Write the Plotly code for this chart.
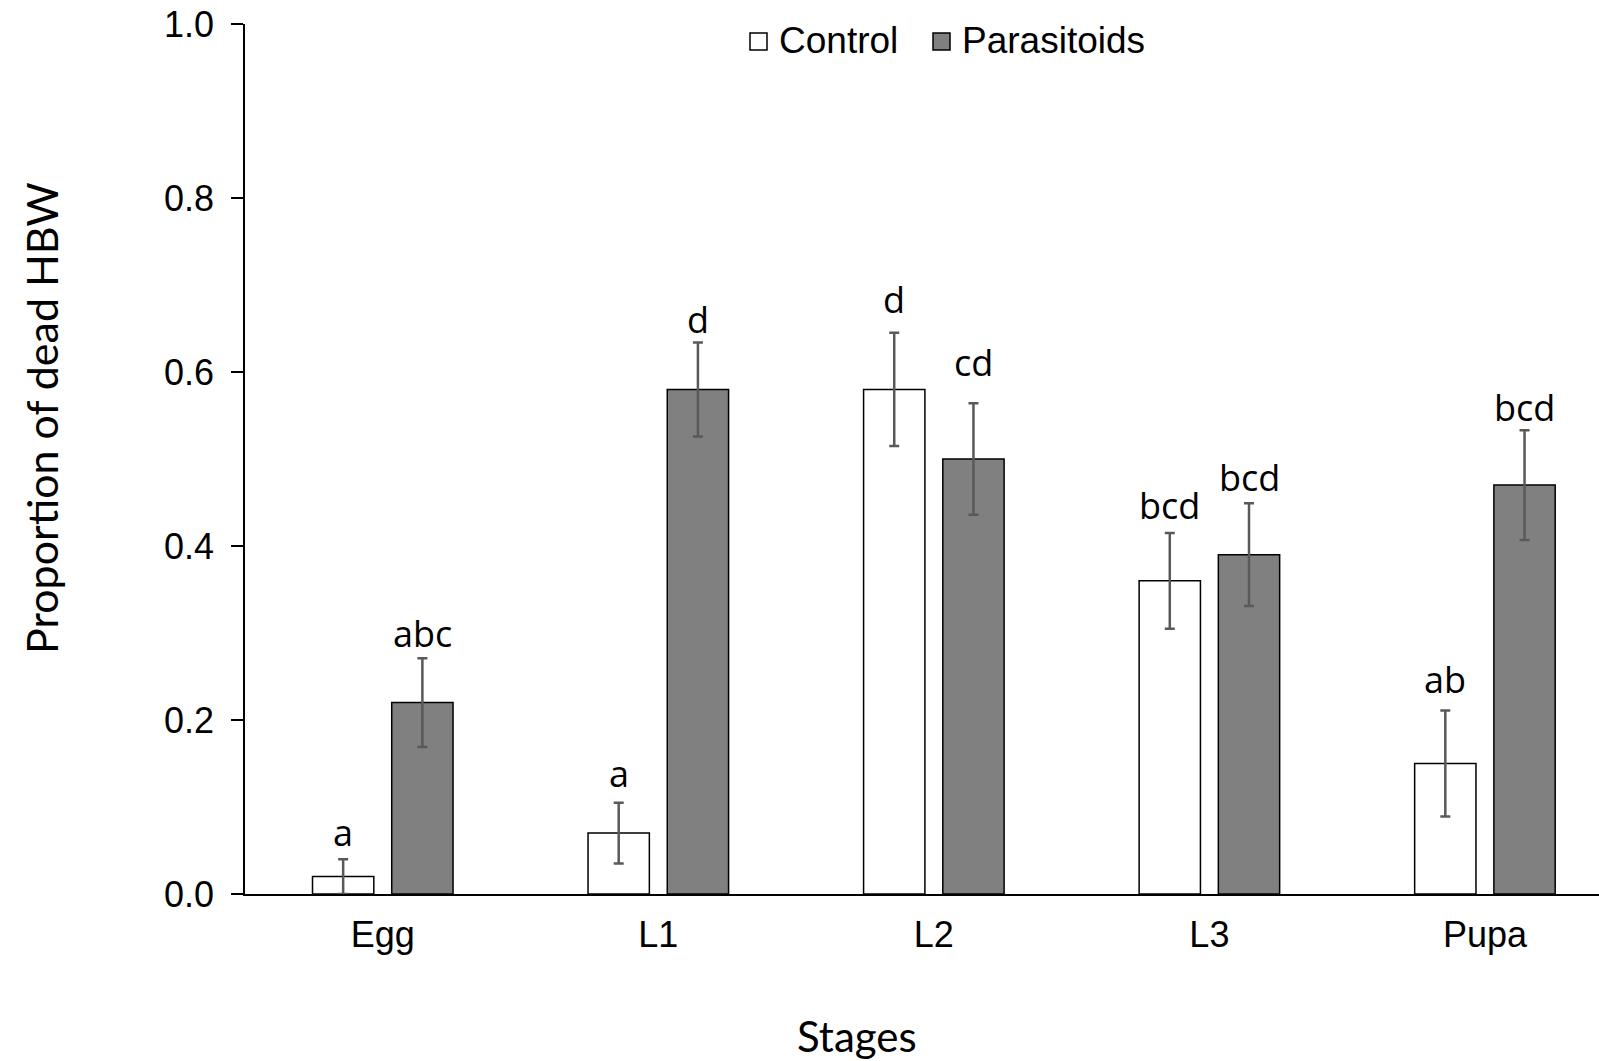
import plotly.graph_objects as go

# Mortality of HBW by developmental stage, control vs. parasitoid exposure
stages = ["Egg", "L1", "L2", "L3", "Pupa"]
control_mean = [0.02, 0.07, 0.58, 0.36, 0.15]
control_se = [0.02, 0.035, 0.065, 0.055, 0.061]
parasitoid_mean = [0.22, 0.58, 0.50, 0.39, 0.47]
parasitoid_se = [0.051, 0.054, 0.064, 0.059, 0.063]

# Significance letters and their heights on the y scale
control_letters = ["a", "a", "d", "bcd", "ab"]
control_letter_y = [0.071, 0.139, 0.683, 0.447, 0.246]
parasitoid_letters = ["abc", "d", "cd", "bcd", "bcd"]
parasitoid_letter_y = [0.300, 0.660, 0.611, 0.479, 0.559]

y_ticks = [0.0, 0.2, 0.4, 0.6, 0.8, 1.0]

W, H = 1599, 1061
ML, MR, MT, MB = 245, 0, 24, 167
PW, PH = W - ML - MR, H - MT - MB


def px(x):
    """Figure pixel x -> plot-area paper fraction."""
    return (x - ML) / PW


def py(y):
    """Figure pixel y (from top) -> plot-area paper fraction."""
    return (H - MB - y) / PH


err_style = dict(type="data", visible=True, color="#595959", thickness=2.5, width=5)
CONTROL_FILL, PARA_FILL = "white", "#808080"

fig = go.Figure()
fig.add_trace(go.Bar(
    name="Control", x=stages, y=control_mean,
    error_y=dict(array=control_se, **err_style),
    marker=dict(color=CONTROL_FILL, line=dict(color="black", width=1.5)),
))
fig.add_trace(go.Bar(
    name="Parasitoids", x=stages, y=parasitoid_mean,
    error_y=dict(array=parasitoid_se, **err_style),
    marker=dict(color=PARA_FILL, line=dict(color="black", width=1.5)),
))

letter_font = dict(family="Open Sans", size=36, color="black")
offset = 0.144
annotations = []
for i in range(len(stages)):
    annotations.append(dict(x=i - offset, y=control_letter_y[i], xref="x", yref="y",
                            text=control_letters[i], showarrow=False, font=letter_font,
                            yanchor="middle", xanchor="center"))
    annotations.append(dict(x=i + offset, y=parasitoid_letter_y[i], xref="x", yref="y",
                            text=parasitoid_letters[i], showarrow=False, font=letter_font,
                            yanchor="middle", xanchor="center"))

# axis titles
annotations.append(dict(x=px(857), y=py(1036), xref="paper", yref="paper",
                        text="Stages", showarrow=False, xanchor="center", yanchor="middle",
                        font=dict(family="Lato", size=42, color="black")))
annotations.append(dict(x=px(41), y=py(418), xref="paper", yref="paper",
                        text="Proportion of dead HBW", showarrow=False, textangle=-90,
                        xanchor="center", yanchor="middle",
                        font=dict(family="Lato", size=43, color="black")))

# legend drawn as boxes with labels
legend_font = dict(family="Liberation Sans", size=37, color="black")
shapes = []
for x0, fill, label in [(750, CONTROL_FILL, "Control"), (933, PARA_FILL, "Parasitoids")]:
    shapes.append(dict(type="rect", xref="paper", yref="paper",
                       x0=px(x0), x1=px(x0 + 17), y0=py(50), y1=py(33),
                       fillcolor=fill, line=dict(color="black", width=1.5)))
    annotations.append(dict(x=px(x0 + 27), y=py(41), xref="paper", yref="paper",
                            text=label, showarrow=False, xanchor="left", yanchor="middle",
                            font=legend_font))

fig.update_layout(
    width=W, height=H,
    margin=dict(l=ML, r=MR, t=MT, b=MB, autoexpand=False),
    paper_bgcolor="white", plot_bgcolor="white",
    barmode="group", bargap=0.425, bargroupgap=0.226,
    showlegend=False,
    annotations=annotations,
    shapes=shapes,
    xaxis=dict(range=[-0.5, 4.414], showline=True, linecolor="black", linewidth=1.5,
               ticks="", showgrid=False, zeroline=False, ticklabelstandoff=8,
               tickfont=dict(family="Liberation Sans", size=36, color="black")),
    yaxis=dict(range=[0, 1], tickvals=y_ticks, ticktext=[f"{v:.1f}" for v in y_ticks],
               showline=True, linecolor="black", linewidth=1.5,
               ticks="outside", ticklen=12, tickwidth=1.5, tickcolor="black",
               showgrid=False, zeroline=False, ticklabelstandoff=10,
               tickfont=dict(family="Liberation Sans", size=36, color="black")),
)

fig.write_html("out.html")
